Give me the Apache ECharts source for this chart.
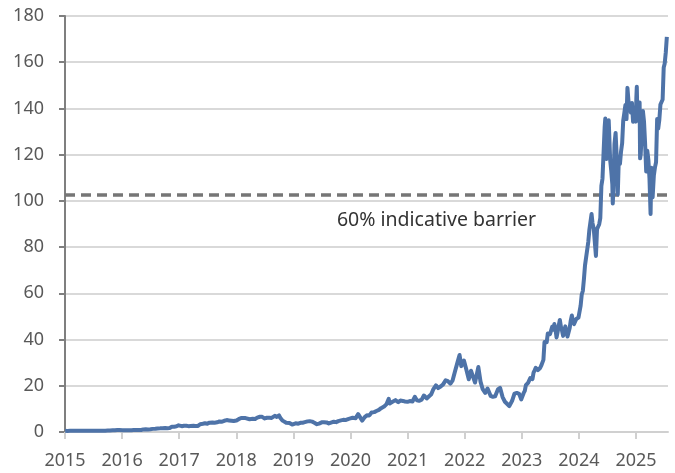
<!DOCTYPE html>
<html>
<head>
<meta charset="utf-8">
<script src="https://cdn.jsdelivr.net/npm/echarts@6/dist/echarts.min.js"></script>
<style>html,body{margin:0;padding:0;background:#fff}#c{width:675px;height:473px}</style>
</head>
<body>
<div id="c"></div>
<script>
const yearTicks = [2015, 2016, 2017, 2018, 2019, 2020, 2021, 2022, 2023, 2024, 2025];
const barrierLevel = 102.5;
const barrierLabel = '60% indicative barrier';

const dates = [
'2015-01-02','2015-01-15','2015-02-02','2015-02-15','2015-03-02','2015-03-16','2015-04-01','2015-04-15','2015-05-01','2015-05-15','2015-06-01','2015-06-15','2015-07-01','2015-07-15','2015-08-03','2015-08-17','2015-09-01','2015-09-15','2015-10-01','2015-10-15','2015-11-02','2015-11-16','2015-12-01','2015-12-15',
'2016-01-04','2016-01-15','2016-02-01','2016-02-16','2016-03-01','2016-03-15','2016-04-01','2016-04-15','2016-05-02','2016-05-16','2016-06-01','2016-06-15','2016-07-01','2016-07-15','2016-08-01','2016-08-15','2016-09-01','2016-09-15','2016-10-03','2016-10-17','2016-11-01','2016-11-15','2016-12-01','2016-12-15','2016-12-28',
'2017-01-03','2017-01-17','2017-02-01','2017-02-15','2017-03-01','2017-03-15','2017-04-03','2017-04-17','2017-05-01','2017-05-15','2017-06-01','2017-06-15','2017-06-30','2017-07-14','2017-08-01','2017-08-15','2017-09-01','2017-09-15','2017-10-02','2017-10-16','2017-11-01','2017-11-15','2017-12-01','2017-12-15',
'2018-01-02','2018-01-16','2018-02-01','2018-02-09','2018-02-15','2018-03-01','2018-03-13','2018-03-27','2018-04-02','2018-04-16','2018-05-01','2018-05-15','2018-06-01','2018-06-15','2018-07-02','2018-07-16','2018-08-01','2018-08-15','2018-08-24','2018-09-04','2018-09-17','2018-10-01','2018-10-10','2018-10-24','2018-11-01','2018-11-16','2018-11-27','2018-12-07','2018-12-24',
'2019-01-02','2019-01-15','2019-02-01','2019-02-15','2019-03-01','2019-03-15','2019-04-01','2019-04-15','2019-05-01','2019-05-15','2019-05-31','2019-06-14','2019-07-01','2019-07-15','2019-08-01','2019-08-15','2019-09-03','2019-09-16','2019-10-01','2019-10-15','2019-11-01','2019-11-15','2019-12-02','2019-12-16','2019-12-31',
'2020-01-15','2020-02-03','2020-02-19','2020-03-02','2020-03-16','2020-04-01','2020-04-15','2020-05-01','2020-05-15','2020-06-01','2020-06-15','2020-07-01','2020-07-15','2020-08-03','2020-08-19','2020-09-02','2020-09-08','2020-09-21','2020-10-01','2020-10-15','2020-11-02','2020-11-16','2020-12-01','2020-12-15','2020-12-31',
'2021-01-04','2021-01-15','2021-02-01','2021-02-16','2021-03-01','2021-03-15','2021-04-01','2021-04-15','2021-05-03','2021-05-14','2021-06-01','2021-06-15','2021-07-01','2021-07-15','2021-08-02','2021-08-16','2021-09-01','2021-09-15','2021-10-01','2021-10-15','2021-11-01','2021-11-15','2021-11-29','2021-12-10','2021-12-27',
'2022-01-10','2022-01-27','2022-02-10','2022-02-24','2022-03-08','2022-03-29','2022-04-12','2022-04-26','2022-05-12','2022-05-27','2022-06-16','2022-06-30','2022-07-14','2022-08-01','2022-08-15','2022-08-31','2022-09-15','2022-09-30','2022-10-13','2022-10-31','2022-11-15','2022-11-30','2022-12-15','2022-12-28',
'2023-01-06','2023-01-13','2023-01-20','2023-01-27','2023-02-03','2023-02-10','2023-02-17','2023-02-24','2023-03-03','2023-03-10','2023-03-17','2023-03-24','2023-03-31','2023-04-07','2023-04-14','2023-04-21','2023-04-28','2023-05-05','2023-05-12','2023-05-19','2023-05-26','2023-06-02','2023-06-09','2023-06-16','2023-06-23','2023-06-30','2023-07-07','2023-07-14','2023-07-21','2023-07-28','2023-08-04','2023-08-11','2023-08-18','2023-08-25','2023-09-01','2023-09-08','2023-09-15','2023-09-22','2023-09-29','2023-10-06','2023-10-13','2023-10-20','2023-10-27','2023-11-03','2023-11-10','2023-11-17','2023-11-24','2023-12-01','2023-12-08','2023-12-15','2023-12-22','2023-12-29',
'2024-01-05','2024-01-12','2024-01-19','2024-01-26','2024-02-02','2024-02-09','2024-02-16','2024-02-23','2024-03-01','2024-03-08','2024-03-15','2024-03-22','2024-03-28','2024-04-05','2024-04-12','2024-04-19','2024-04-26','2024-05-03','2024-05-10','2024-05-17','2024-05-24','2024-05-31','2024-06-07','2024-06-14','2024-06-18','2024-06-21','2024-06-24','2024-06-28','2024-07-05','2024-07-10','2024-07-19','2024-07-26','2024-08-02','2024-08-05','2024-08-09','2024-08-16','2024-08-23','2024-08-30','2024-09-06','2024-09-13','2024-09-20','2024-09-27','2024-10-04','2024-10-11','2024-10-18','2024-10-25','2024-11-01','2024-11-07','2024-11-15','2024-11-22','2024-11-29','2024-12-06','2024-12-13','2024-12-20','2024-12-27','2024-12-31',
'2025-01-03','2025-01-06','2025-01-10','2025-01-17','2025-01-24','2025-01-27','2025-01-31','2025-02-07','2025-02-14','2025-02-21','2025-02-28','2025-03-07','2025-03-14','2025-03-21','2025-03-28','2025-04-04','2025-04-09','2025-04-11','2025-04-17','2025-04-25','2025-05-02','2025-05-09','2025-05-16','2025-05-23','2025-05-30','2025-06-06','2025-06-13','2025-06-20','2025-06-27','2025-07-03','2025-07-10','2025-07-17'
];

const prices = [
0.50,0.48,0.51,0.55,0.56,0.53,0.52,0.55,0.55,0.57,0.54,0.52,0.50,0.50,0.57,0.56,0.54,0.57,0.62,0.66,0.72,0.78,0.83,0.82,
0.80,0.70,0.73,0.74,0.80,0.86,0.90,0.90,0.89,1.12,1.17,1.13,1.17,1.35,1.44,1.56,1.58,1.65,1.72,1.66,1.72,2.27,2.30,2.45,2.90,
2.53,2.51,2.72,2.70,2.53,2.60,2.72,2.55,2.62,3.36,3.55,3.78,3.61,4.05,4.15,4.00,4.21,4.57,4.48,4.85,5.15,5.01,4.86,4.75,
4.98,5.55,6.06,5.35,6.02,6.02,6.32,5.53,5.50,5.69,5.63,6.23,6.60,6.55,5.86,6.15,6.21,6.10,6.80,6.98,6.55,7.17,6.10,4.92,5.17,4.02,3.70,3.90,3.22,
3.41,3.76,3.58,3.96,4.02,4.27,4.60,4.69,4.48,4.03,3.38,3.65,4.18,4.26,4.15,3.68,4.16,4.47,4.26,4.72,5.05,5.26,5.17,5.60,5.88,
6.16,5.99,7.73,6.89,4.92,6.45,7.21,7.19,8.41,8.60,9.10,9.56,10.30,11.01,12.09,14.37,12.36,12.85,13.69,13.79,12.86,13.59,13.45,13.21,13.05,
13.1,13.4,13.2,15.2,13.7,13.5,14.0,15.8,14.5,14.9,16.3,18.6,20.2,19.0,19.8,20.6,22.4,22.0,20.9,22.2,26.5,29.9,33.3,28.5,30.9,
27.4,22.8,26.5,23.7,21.4,28.1,21.8,18.5,16.9,18.8,15.6,15.2,15.4,18.4,19.1,15.1,13.1,12.1,11.2,13.5,16.6,16.9,16.5,14.1,
14.9,16.9,17.8,20.3,21.1,21.3,21.4,23.3,24.0,22.9,25.7,26.7,27.8,27.0,26.8,27.1,27.7,28.7,28.3,31.2,38.9,39.3,38.8,42.6,42.2,42.3,42.5,45.5,44.3,46.7,44.6,40.9,43.3,46.0,48.5,45.5,43.9,41.6,43.5,45.7,45.4,41.3,40.5,45.0,48.3,50.4,47.8,46.7,47.5,48.9,48.8,49.5,
49.1,54.7,59.5,61.0,66.1,72.1,72.6,78.9,82.2,87.5,87.8,94.3,90.4,88.0,88.1,76.2,87.7,88.8,89.9,92.5,106.5,109.6,120.9,131.9,135.6,126.6,118.1,123.5,125.8,134.9,117.9,113.1,107.3,98.9,104.8,124.6,129.4,119.4,102.8,119.1,116.0,121.4,124.9,134.8,138.0,141.5,135.4,148.9,141.98,141.95,138.25,142.4,134.25,134.7,137.0,134.3,
144.5,149.4,135.9,137.7,142.6,118.4,120.1,129.8,138.9,134.4,124.9,112.7,121.7,117.7,109.7,94.3,114.3,110.9,101.5,111.0,114.5,116.7,135.4,131.3,135.1,141.7,141.97,143.85,157.75,159.3,164.1,171.0
];

function toYear(s) {
  const p = s.split('-').map(Number);
  const start = Date.UTC(p[0], 0, 1), end = Date.UTC(p[0] + 1, 0, 1);
  return p[0] + (Date.UTC(p[0], p[1] - 1, p[2]) - start) / (end - start);
}
const seriesData = dates.map((d, i) => [toYear(d), prices[i]]);

const chart = echarts.init(document.getElementById('c'), null, { renderer: 'canvas' });
const font = "'Noto Sans', sans-serif";
chart.setOption({
  animation: false,
  backgroundColor: '#ffffff',
  grid: { left: 65, right: 7, top: 16, bottom: 41, containLabel: false },
  xAxis: {
    type: 'value', min: 2015, max: 2025.56, interval: 1,
    axisLine: { show: true, onZero: false, lineStyle: { color: '#d0d0d0', width: 2 } },
    axisTick: { show: true, length: 7, customValues: yearTicks, lineStyle: { color: '#d0d0d0', width: 2 } },
    axisLabel: { customValues: yearTicks, color: '#595959', fontSize: 18, fontFamily: font, margin: 20, formatter: v => String(Math.round(v)) },
    splitLine: { show: false }
  },
  yAxis: {
    type: 'value', min: 0, max: 180, interval: 20,
    axisLine: { show: true, lineStyle: { color: '#7f7f7f', width: 2 } },
    axisTick: { show: true, length: 6, lineStyle: { color: '#7f7f7f', width: 2 } },
    axisLabel: { color: '#595959', fontSize: 18, fontFamily: font, margin: 21 },
    splitLine: { show: true, lineStyle: { color: '#d9d9d9', width: 2 } }
  },
  series: [{
    type: 'line',
    data: seriesData,
    showSymbol: false,
    lineStyle: { color: '#4e73a8', width: 4, join: 'round' },
    z: 3,
    markLine: {
      silent: true,
      symbol: ['none', 'none'],
      data: [{ yAxis: barrierLevel }],
      lineStyle: { color: '#767676', type: [10, 6], width: 3.5 },
      label: {
        show: true, position: 'insideMiddleBottom', formatter: barrierLabel,
        color: '#333333', fontSize: 19.5, fontFamily: font, offset: [70, 10]
      },
      z: 2
    }
  }]
});
</script>
</body>
</html>
